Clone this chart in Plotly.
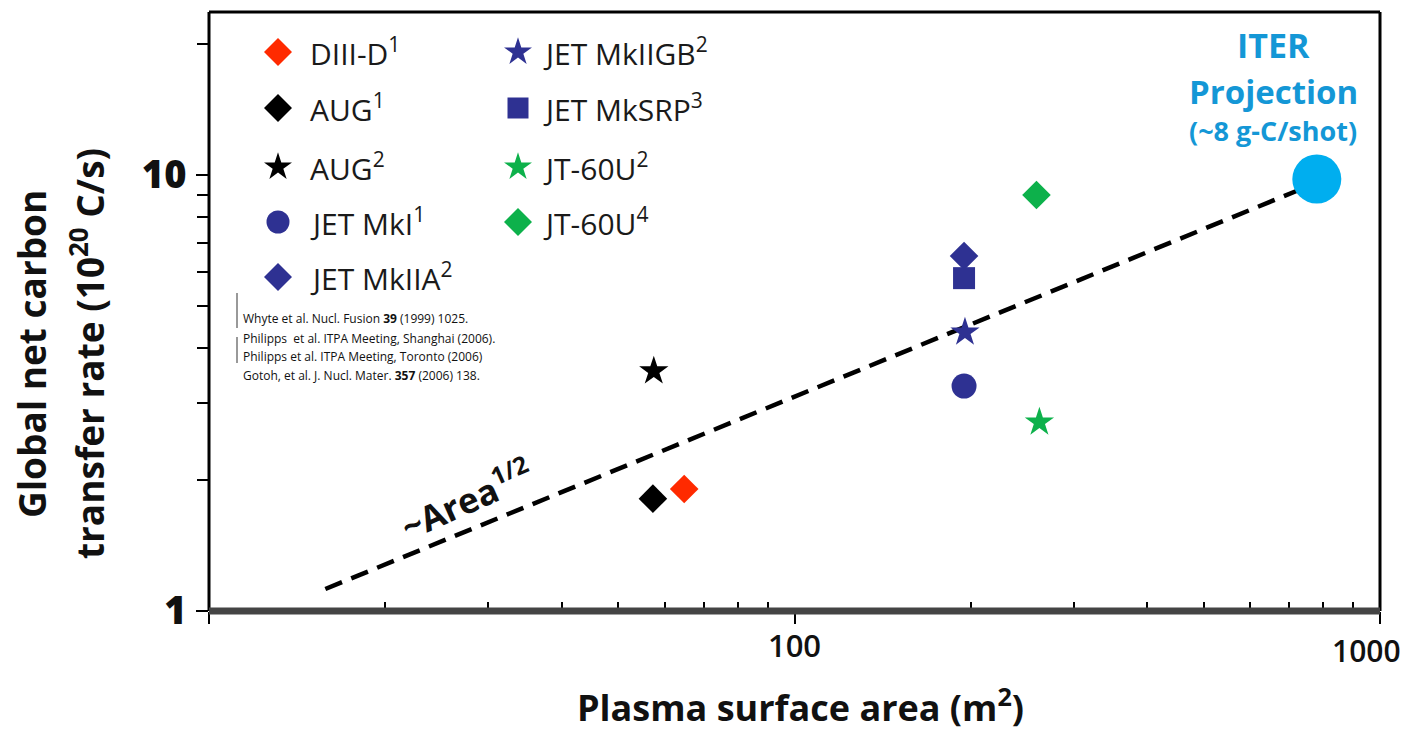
import plotly.graph_objects as go

# ---------------- data ----------------
labels = ["DIII-D<sup>1</sup>", "AUG<sup>1</sup>", "AUG<sup>2</sup>", "JET MkI<sup>1</sup>",
          "JET MkIIA<sup>2</sup>", "JET MkIIGB<sup>2</sup>", "JET MkSRP<sup>3</sup>",
          "JT-60U<sup>2</sup>", "JT-60U<sup>4</sup>"]
area_m2 = [64.8, 57.3, 57.5, 194.8, 194.8, 195.5, 194.8, 262.0, 259.0]
rate_1e20 = [1.905, 1.81, 3.55, 3.28, 6.52, 4.36, 5.80, 2.71, 9.0]
symbols = ["diamond", "diamond", "star", "circle", "diamond", "star", "square", "star", "diamond"]
colors = ["#FF2A00", "#000000", "#000000", "#2E3192", "#2E3192", "#2E3192", "#2E3192", "#0DB14B", "#0DB14B"]

iter_area = [780.0]
iter_rate = [9.79]

fit_area = [15.8, 727.0]
fit_rate = [1.123, 9.24]

x_tickvals = [10, 100, 1000]
x_ticktext = ["", "100", ""]
x_edge_label = "1000"
x_minor = [20, 30, 40, 50, 60, 70, 80, 90, 200, 300, 400, 500, 600, 700, 800, 900]
y_tickvals = [1, 10]
y_ticktext = ["1", "10"]
y_minor = [2, 3, 4, 5, 6, 7, 8, 9, 20]

references = [
    "Whyte et al. Nucl. Fusion <b>39</b> (1999) 1025.",
    "Philipps  et al. ITPA Meeting, Shanghai (2006).",
    "Philipps et al. ITPA Meeting, Toronto (2006)",
    "Gotoh, et al. J. Nucl. Mater. <b>357</b> (2006) 138.",
]

# ---------------- layout geometry ----------------
W, H = 1405, 733
L, R, T, B = 209, 25, 12, 122
PW, PH = W - L - R, H - T - B
DECADE_Y = 436.0


def px(xp):
    return (xp - L) / PW


def py(yp):
    return (H - B - yp) / PH


marker_sizes = {"diamond": 22, "star": 22, "circle": 25, "square": 22}
legend_sizes = {"diamond": 21.5, "star": 21, "circle": 23, "square": 21}

fig = go.Figure()

# trend line
fig.add_trace(go.Scatter(x=fit_area, y=fit_rate, mode="lines",
                         line=dict(color="black", width=4.5, dash="18px,10px"),
                         showlegend=False, hoverinfo="skip"))

# data points
for i in range(len(labels)):
    fig.add_trace(go.Scatter(x=[area_m2[i]], y=[rate_1e20[i]], mode="markers",
                             marker=dict(symbol=symbols[i], color=colors[i], opacity=1,
                                         size=marker_sizes[symbols[i]], line=dict(width=0)),
                             showlegend=False, name=labels[i]))

# ITER projection
fig.add_trace(go.Scatter(x=iter_area, y=iter_rate, mode="markers",
                         marker=dict(symbol="circle", color="#00AEEF", size=49, opacity=1,
                                     line=dict(width=0)),
                         showlegend=False, name="ITER"))

# custom legend (two columns) on an overlay axis
col_x_marker = [278, 518]
col_x_text = [308, 541]
row_y = [52, 108, 167, 222, 277]
lx, ly, lsym, lcol, lsz = [], [], [], [], []
annotations = []
for k in range(len(labels)):
    c = 0 if k < 5 else 1
    r = k if k < 5 else k - 5
    lx.append(px(col_x_marker[c]))
    ly.append(py(row_y[r]))
    lsym.append(symbols[k])
    lcol.append(colors[k])
    lsz.append(legend_sizes[symbols[k]])
    annotations.append(dict(xref="paper", yref="paper", x=px(col_x_text[c]), y=py(row_y[r]),
                            xanchor="left", yanchor="middle", showarrow=False,
                            text=labels[k],
                            font=dict(family="Open Sans", size=30, color="#1a1a1a")))
fig.add_trace(go.Scatter(x=lx, y=ly, mode="markers", xaxis="x2", yaxis="y2",
                         marker=dict(symbol=lsym, color=lcol, size=lsz, opacity=1,
                                     line=dict(width=0)),
                         showlegend=False, hoverinfo="skip"))

# references
ref_y = [319, 338, 357, 375]
for t, yy in zip(references, ref_y):
    annotations.append(dict(xref="paper", yref="paper", x=px(241), y=py(yy),
                            xanchor="left", yanchor="middle", showarrow=False, text=t,
                            font=dict(family="Open Sans", size=12, color="#111")))

# ~Area^1/2
annotations.append(dict(xref="paper", yref="paper", x=px(466), y=py(498), textangle=-24,
                        xanchor="center", yanchor="middle", showarrow=False,
                        text="<b>~Area<sup>1/2</sup></b>",
                        font=dict(family="Open Sans", size=35, color="#111")))

# ITER labels
iter_col = "#1497D6"
annotations += [
    dict(xref="paper", yref="paper", x=px(1273), y=py(45), showarrow=False,
         xanchor="center", yanchor="middle", text="<b>ITER</b>",
         font=dict(family="Open Sans", size=34, color=iter_col)),
    dict(xref="paper", yref="paper", x=px(1273), y=py(91), showarrow=False,
         xanchor="center", yanchor="middle", text="<b>Projection</b>",
         font=dict(family="Open Sans", size=33, color=iter_col)),
    dict(xref="paper", yref="paper", x=px(1273), y=py(130), showarrow=False,
         xanchor="center", yanchor="middle", text="<b>(~8 g-C/shot)</b>",
         font=dict(family="Open Sans", size=27, color=iter_col)),
]

# "1000" tick label at the right edge (kept inside the picture)
annotations.append(dict(xref="paper", yref="paper", x=px(1403), y=py(650), showarrow=False,
                        xanchor="right", yanchor="middle", text=x_edge_label,
                        font=dict(family="Open Sans", size=30, color="#111", weight=600)))

# axis titles
annotations += [
    dict(xref="paper", yref="paper", x=px(800), y=py(705), showarrow=False,
         xanchor="center", yanchor="middle", text="<b>Plasma surface area (m<sup>2</sup>)</b>",
         font=dict(family="Open Sans", size=36, color="#111")),
    dict(xref="paper", yref="paper", x=px(32), y=py(354), showarrow=False, textangle=-90,
         xanchor="center", yanchor="middle", text="<b>Global net carbon</b>",
         font=dict(family="Open Sans", size=37, color="#111")),
    dict(xref="paper", yref="paper", x=px(88), y=py(354), showarrow=False, textangle=-90,
         xanchor="center", yanchor="middle", text="<b>transfer rate (10<sup>20</sup> C/s)</b>",
         font=dict(family="Open Sans", size=37, color="#111")),
]

shapes = [
    # frame
    dict(type="line", xref="paper", yref="paper", x0=0, x1=1, y0=1, y1=1,
         line=dict(color="black", width=3)),
    dict(type="line", xref="paper", yref="paper", x0=1, x1=1, y0=0, y1=1,
         line=dict(color="black", width=3)),
    dict(type="line", xref="paper", yref="paper", x0=0, x1=0, y0=0, y1=1,
         line=dict(color="black", width=3)),
    dict(type="line", xref="paper", yref="paper", x0=0, x1=1, y0=0, y1=0,
         line=dict(color="#444", width=7)),
    # reference brackets
    dict(type="line", xref="paper", yref="paper", x0=px(237), x1=px(237), y0=py(293), y1=py(328),
         line=dict(color="#999", width=2)),
    dict(type="line", xref="paper", yref="paper", x0=px(237), x1=px(237), y0=py(337), y1=py(363),
         line=dict(color="#999", width=2)),
]

fig.update_layout(
    width=W, height=H,
    margin=dict(l=L, r=R, t=T, b=B, pad=0, autoexpand=False),
    plot_bgcolor="white", paper_bgcolor="white",
    showlegend=False,
    xaxis=dict(type="log", range=[0.99995, 3.00005], showgrid=False, zeroline=False,
               showline=False, automargin=False,
               tickmode="array", tickvals=x_tickvals, ticktext=x_ticktext,
               ticks="outside", ticklen=12, tickwidth=2, tickcolor="black",
               ticklabelstandoff=-4,
               tickfont=dict(family="Open Sans", size=31, color="#111", weight=600),
               minor=dict(tickmode="array", tickvals=x_minor, ticks="inside", ticklen=9,
                          tickwidth=2, tickcolor="black", showgrid=False)),
    yaxis=dict(type="log", range=[-0.00005, PH / DECADE_Y], showgrid=False, zeroline=False,
               showline=False, automargin=False,
               tickmode="array", tickvals=y_tickvals, ticktext=y_ticktext,
               ticks="outside", ticklen=12, tickwidth=2, tickcolor="black",
               ticklabelstandoff=2,
               tickfont=dict(family="Open Sans", size=38, color="#111", weight=800),
               minor=dict(tickmode="array", tickvals=y_minor, ticks="outside", ticklen=11,
                          tickwidth=2, tickcolor="black", showgrid=False)),
    xaxis2=dict(overlaying="x", range=[0, 1], visible=False, fixedrange=True),
    yaxis2=dict(overlaying="y", range=[0, 1], visible=False, fixedrange=True),
    annotations=annotations,
    shapes=shapes,
)

fig.write_html("out.html")
